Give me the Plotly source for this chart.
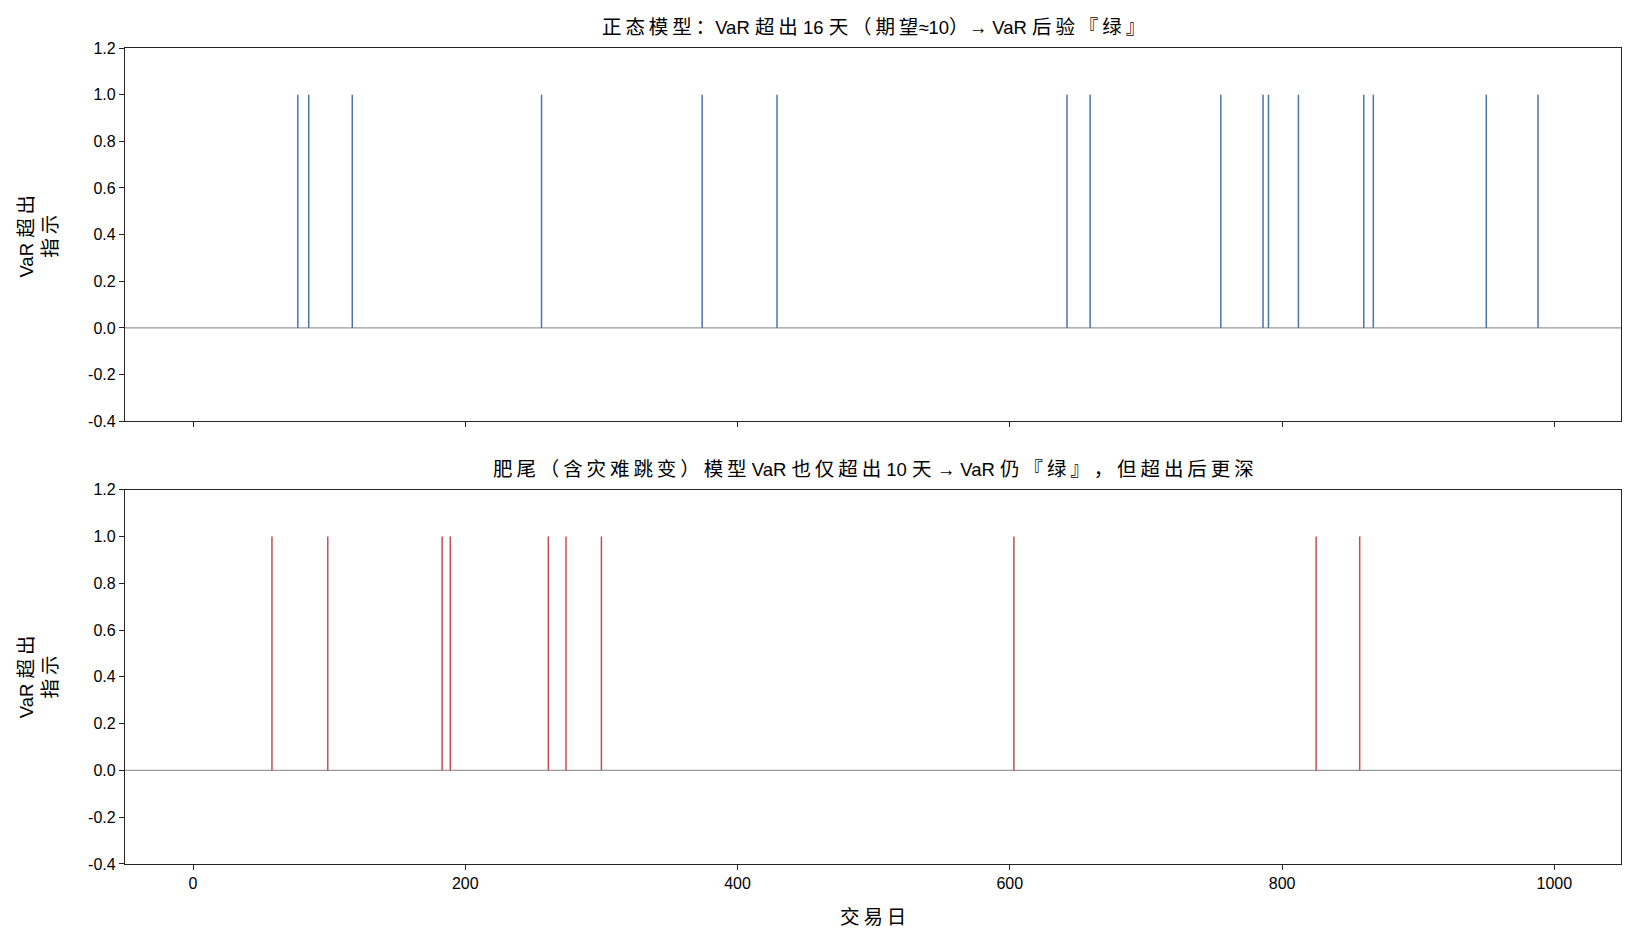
import re
import plotly.graph_objects as go

# ---- data ----
normal_exceed_days = [77, 85, 117, 256, 374, 429, 642, 659, 755, 786, 790, 812, 860, 867, 950, 988]
fat_exceed_days = [58, 99, 183, 189, 261, 274, 300, 603, 825, 857]
x_ticks = [0, 200, 400, 600, 800, 1000]
y_ticks = [-0.4, -0.2, 0.0, 0.2, 0.4, 0.6, 0.8, 1.0, 1.2]
n_days = 1000

title_top = "正态模型：VaR 超出 16 天（期望≈10）→ VaR 后验『绿』"
title_bottom = "肥尾（含灾难跳变）模型 VaR 也仅超出 10 天 → VaR 仍『绿』，但超出后更深"
ylabel_lines = ["VaR 超出", "指示"]
xlabel = "交易日"

BLUE = "#4c72b0"
RED = "#c44e52"
AXC = "#262626"
FONT = "Arial, Liberation Sans, Noto Sans CJK SC, sans-serif"
CJK_SIZE = 19.5

CJK_RE = re.compile(r"([\u3000-\u303f\u4e00-\u9fff\uff00-\uffef]+)")


def styled(text):
    parts = CJK_RE.split(text)
    out = []
    for p in parts:
        if not p:
            continue
        if CJK_RE.fullmatch(p):
            spaced = "\u2009".join(p)
            out.append(f'<span style="font-size:{CJK_SIZE}px">{spaced}</span>')
        else:
            out.append(p)
    return "".join(out)


def stems(days):
    xs, ys = [], []
    for d in days:
        xs += [d, d, None]
        ys += [0, 1, None]
    return xs, ys


fig = go.Figure()
xs, ys = stems(normal_exceed_days)
fig.add_trace(go.Scatter(x=xs, y=ys, mode="lines", line=dict(color=BLUE, width=1.5),
                         xaxis="x", yaxis="y", showlegend=False, hoverinfo="skip"))
xs, ys = stems(fat_exceed_days)
fig.add_trace(go.Scatter(x=xs, y=ys, mode="lines", line=dict(color=RED, width=1.5),
                         xaxis="x2", yaxis="y2", showlegend=False, hoverinfo="skip"))

xmin = -0.05 * (n_days - 1)
xmax = (n_days - 1) * 1.05
axis_common = dict(showline=True, linecolor=AXC, linewidth=1.3, mirror=True,
                   ticks="outside", ticklen=5, tickwidth=1.2, tickcolor=AXC,
                   showgrid=False, zeroline=False,
                   tickfont=dict(family=FONT, size=16, color="#000"))

fig.update_layout(
    width=1636, height=945,
    margin=dict(l=125, r=15, t=47.5, b=81),
    paper_bgcolor="white", plot_bgcolor="white",
    font=dict(family=FONT, size=16, color="#000"),
    xaxis=dict(domain=[0, 1], anchor="y", range=[xmin, xmax], tickvals=x_ticks,
               showticklabels=False, **axis_common),
    yaxis=dict(domain=[0.5426, 1], anchor="x", range=[-0.4, 1.2], tickvals=y_ticks,
               ticktext=[f"{v:.1f}" for v in y_ticks], **axis_common),
    xaxis2=dict(domain=[0, 1], anchor="y2", range=[xmin, xmax], tickvals=x_ticks,
                **axis_common),
    yaxis2=dict(domain=[0, 0.4588], anchor="x2", range=[-0.4, 1.2], tickvals=y_ticks,
                ticktext=[f"{v:.1f}" for v in y_ticks], **axis_common),
)

# horizontal zero lines
for yref in ["y", "y2"]:
    xr = "x domain" if yref == "y" else "x2 domain"
    fig.add_shape(type="line", xref=xr, yref=yref, x0=0, x1=1, y0=0, y1=0,
                  line=dict(color="#999999", width=1.2), layer="below")

ann = dict(showarrow=False, xref="paper", yref="paper", font=dict(family=FONT, size=18.5, color="#000"))
fig.add_annotation(text=styled(title_top), x=0.5, y=1.0263, xanchor="center", yanchor="middle", **ann)
fig.add_annotation(text=styled(title_bottom), x=0.5, y=0.4844, xanchor="center", yanchor="middle", **ann)
fig.add_annotation(text=styled(xlabel), x=0.5, y=-0.0649, xanchor="center", yanchor="middle", **ann)
ylabel = "<br>".join(styled(l) for l in ylabel_lines)
for yc in [0.770, 0.230]:
    fig.add_annotation(text=ylabel, x=-0.0582, y=yc, xanchor="center", yanchor="middle",
                       textangle=-90, **ann)

fig.write_html("out.html")
